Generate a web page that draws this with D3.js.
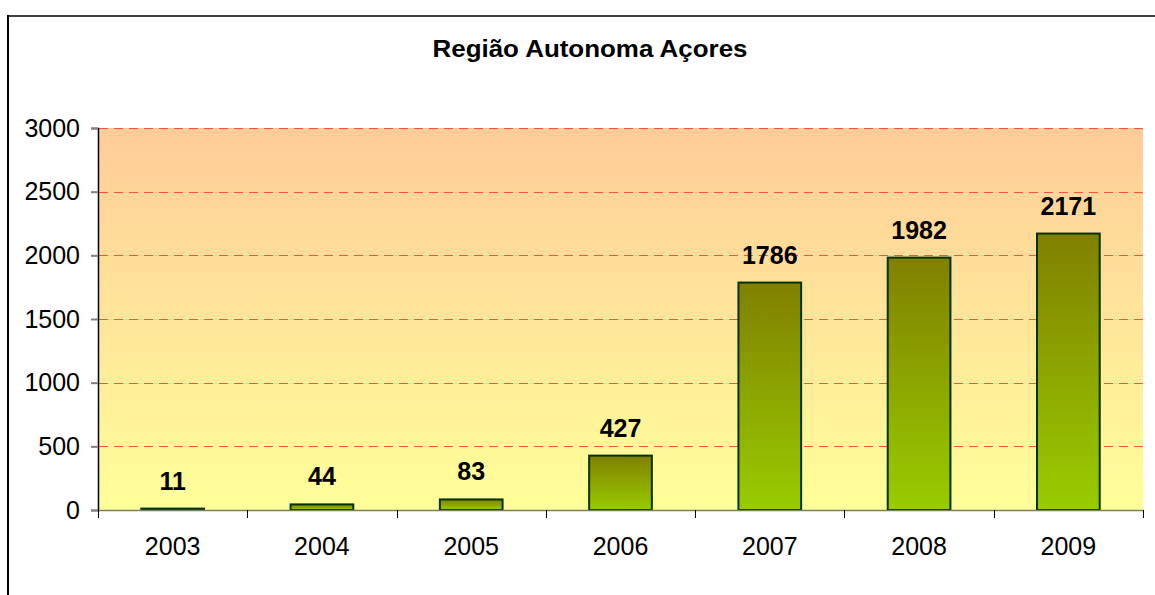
<!DOCTYPE html>
<html>
<head>
<meta charset="utf-8">
<script src="https://cdn.jsdelivr.net/npm/d3@7"></script>
<style>
  html, body { margin: 0; padding: 0; background: #fff; }
  svg { display: block; font-family: Arial, "Liberation Sans", sans-serif; }
</style>
</head>
<body>
<svg id="chart" width="1155" height="595"></svg>
<script>
const title = "Região Autonoma Açores";
const categories = ["2003", "2004", "2005", "2006", "2007", "2008", "2009"];
const values = [11, 44, 83, 427, 1786, 1982, 2171];
const yTicks = [0, 500, 1000, 1500, 2000, 2500, 3000];

const svg = d3.select("#chart");
const plot = { left: 98, right: 1143, top: 128, bottom: 510 };

const defs = svg.append("defs");
const bg = defs.append("linearGradient").attr("id", "bgGrad")
  .attr("x1", 0).attr("y1", 0).attr("x2", 0).attr("y2", 1);
bg.append("stop").attr("offset", "0%").attr("stop-color", "#FFCC99");
bg.append("stop").attr("offset", "100%").attr("stop-color", "#FFFF99");

const bar = defs.append("linearGradient").attr("id", "barGrad")
  .attr("x1", 0).attr("y1", 0).attr("x2", 0).attr("y2", 1);
bar.append("stop").attr("offset", "0%").attr("stop-color", "#808000");
bar.append("stop").attr("offset", "100%").attr("stop-color", "#99CC00");

// outer frame
svg.append("line").attr("x1", 8).attr("x2", 1155).attr("y1", 16).attr("y2", 16)
  .attr("stroke", "#404040").attr("stroke-width", 2);
svg.append("line").attr("x1", 8).attr("x2", 8).attr("y1", 15).attr("y2", 595)
  .attr("stroke", "#000").attr("stroke-width", 2);

// title
svg.append("text").attr("x", 590).attr("y", 57).attr("text-anchor", "middle")
  .attr("font-size", 24).attr("font-weight", "bold").attr("fill", "#000")
  .attr("textLength", 315).attr("lengthAdjust", "spacingAndGlyphs")
  .text(title);

const x = d3.scaleBand().domain(categories).range([plot.left, plot.right]).paddingInner(0.58).paddingOuter(0.29);
const xb = d3.scaleBand().domain(categories).range([plot.left, plot.right]).padding(0);
const y = d3.scaleLinear().domain([0, 3000]).range([plot.bottom, plot.top]);

// plot background
svg.append("rect").attr("x", plot.left).attr("y", plot.top)
  .attr("width", plot.right - plot.left).attr("height", plot.bottom - plot.top)
  .attr("fill", "url(#bgGrad)");

// gridlines
svg.append("g").selectAll("line").data(yTicks.filter(d => d > 0)).join("line")
  .attr("x1", plot.left + 1).attr("x2", plot.right)
  .attr("y1", d => Math.round(y(d)) + 0.5).attr("y2", d => Math.round(y(d)) + 0.5)
  .attr("stroke", "#FF5040").attr("stroke-width", 1).attr("stroke-dasharray", "9,6");

// y axis
const yAxis = svg.append("g").attr("transform", `translate(${plot.left},0)`)
  .call(d3.axisLeft(y).tickValues(yTicks).tickSize(7).tickPadding(11).tickFormat(d3.format("d")));
yAxis.select(".domain").attr("stroke", "#000").attr("stroke-width", 1.5);
yAxis.selectAll(".tick line").attr("stroke", "#808080").attr("stroke-width", 2);
yAxis.selectAll(".tick text").attr("font-size", 25).attr("fill", "#000")
  .attr("font-family", "Arial, 'Liberation Sans', sans-serif");

// bars
svg.append("g").selectAll("rect").data(values).join("rect")
  .attr("x", (d, i) => x(categories[i]))
  .attr("y", d => y(d))
  .attr("width", x.bandwidth())
  .attr("height", d => y(0) - y(d))
  .attr("fill", "url(#barGrad)")
  .attr("stroke", "#003300").attr("stroke-width", 2);

// x axis
const xAxis = svg.append("g").attr("transform", `translate(0,${plot.bottom})`)
  .call(d3.axisBottom(xb).tickSize(0).tickPadding(27));
xAxis.select(".domain").attr("stroke", "#7F7F5F").attr("stroke-width", 1.5);
xAxis.selectAll(".tick text").attr("font-size", 25).attr("fill", "#000")
  .attr("font-family", "Arial, 'Liberation Sans', sans-serif");
// boundary ticks
const bounds = categories.map(c => xb(c)).concat([plot.right]);
svg.append("g").selectAll("line").data(bounds).join("line")
  .attr("x1", d => Math.round(d) + 0.5).attr("x2", d => Math.round(d) + 0.5)
  .attr("y1", plot.bottom).attr("y2", plot.bottom + 8)
  .attr("stroke", "#000").attr("stroke-width", 1);

// value labels
svg.append("g").selectAll("text").data(values).join("text")
  .attr("x", (d, i) => x(categories[i]) + x.bandwidth() / 2)
  .attr("y", d => y(d) - 19)
  .attr("text-anchor", "middle")
  .attr("font-size", 25).attr("font-weight", "bold").attr("fill", "#000")
  .text(d => d);
</script>
</body>
</html>
